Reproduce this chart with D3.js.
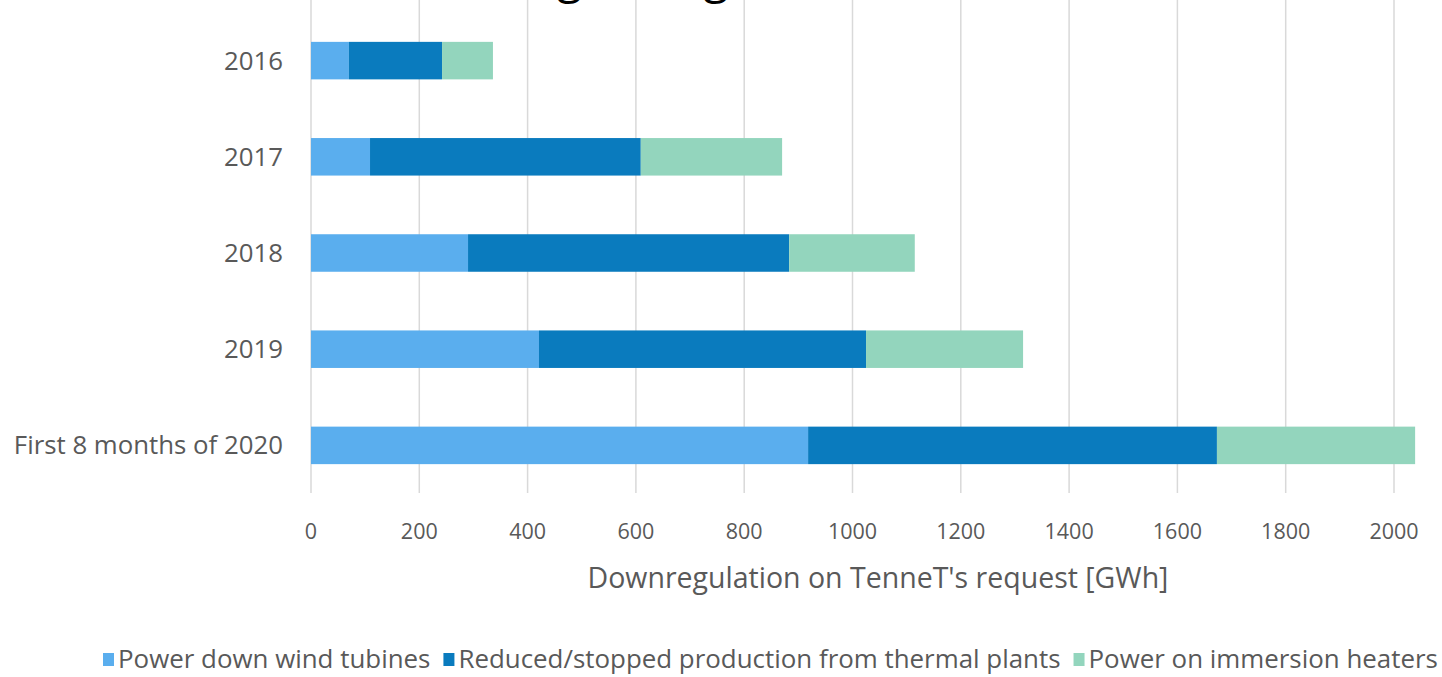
<!DOCTYPE html>
<html>
<head>
<meta charset="utf-8">
<script src="https://cdn.jsdelivr.net/npm/d3@7"></script>
<style>
  body { margin: 0; background: #fff; }
  svg { display: block; }
  text { font-family: "Open Sans", sans-serif; fill: #595959; }
</style>
</head>
<body>
<div id="chart"></div>
<script>
// data (GWh)
var categories = ["2016", "2017", "2018", "2019", "First 8 months of 2020"];
var seriesNames = ["Power down wind tubines", "Reduced/stopped production from thermal plants", "Power on immersion heaters"];
var windValues = [70, 109, 290, 421, 918];
var thermalValues = [172, 500, 593, 604, 755];
var heaterValues = [94, 261, 232, 290, 366];
var xTicks = [0, 200, 400, 600, 800, 1000, 1200, 1400, 1600, 1800, 2000];
var colors = ["#5AAEEE", "#0A7BBE", "#93D5BD"];

var width = 1442, height = 677;

var svg = d3.select("#chart").append("svg")
    .attr("width", width)
    .attr("height", height);

// title, almost entirely above the frame (only the descenders show)
var title = svg.append("text")
    .attr("y", -7)
    .attr("font-size", "46px")
    .style("fill", "#000")
    .text("Downregulating");
var gx = title.node().getStartPositionOfChar(6).x;
title.attr("x", 557 - gx);

var x = d3.scaleLinear()
    .domain([0, 2000])
    .range([311, 1394]);

var y = d3.scaleBand()
    .domain(categories)
    .range([13, 493])
    .paddingInner(0.61)
    .paddingOuter(0.3);

// gridlines
svg.append("g").selectAll("line")
    .data(xTicks)
    .enter()
    .append("line")
    .attr("x1", d => x(d)).attr("x2", d => x(d))
    .attr("y1", 0).attr("y2", 493)
    .style("stroke", "#d9d9d9")
    .style("stroke-width", 1.5);

// stacked bars
var rows = categories.map(function(c, i){
    return {cat: c, v0: windValues[i], v1: thermalValues[i], v2: heaterValues[i]};
});
var layers = d3.stack().keys(["v0", "v1", "v2"])(rows);

svg.append("g").selectAll("g")
    .data(layers)
    .enter()
    .append("g")
    .style("fill", (d, i) => colors[i])
    .selectAll("rect")
    .data(d => d)
    .enter()
    .append("rect")
    .attr("x", d => x(d[0]))
    .attr("width", d => x(d[1]) - x(d[0]))
    .attr("y", d => y(d.data.cat))
    .attr("height", y.bandwidth());

// y labels
svg.append("g").selectAll("text")
    .data(categories)
    .enter()
    .append("text")
    .attr("x", 283)
    .attr("y", d => y(d) + y.bandwidth() / 2)
    .attr("dy", "0.35em")
    .attr("text-anchor", "end")
    .attr("font-size", "25.8px")
    .text(d => d);

// x tick labels
svg.append("g").selectAll("text")
    .data(xTicks)
    .enter()
    .append("text")
    .attr("x", d => x(d))
    .attr("y", 531)
    .attr("dy", "0.35em")
    .attr("text-anchor", "middle")
    .attr("font-size", "21.5px")
    .text(d => d);

// axis title
svg.append("text")
    .attr("x", 878)
    .attr("y", 578)
    .attr("dy", "0.35em")
    .attr("text-anchor", "middle")
    .attr("font-size", "28.5px")
    .text("Downregulation on TenneT's request [GWh]");

// legend
var legend = svg.append("g").attr("transform", "translate(0,659)");
var lx = 103;
seriesNames.forEach(function(name, i){
    legend.append("rect")
        .attr("x", lx).attr("y", -6)
        .attr("width", 11).attr("height", 13)
        .style("fill", colors[i]);
    var t = legend.append("text")
        .attr("x", lx + 15)
        .attr("dy", "0.35em")
        .attr("font-size", "25.9px")
        .text(name);
    lx += 15 + t.node().getComputedTextLength() + 13;
});
</script>
</body>
</html>
